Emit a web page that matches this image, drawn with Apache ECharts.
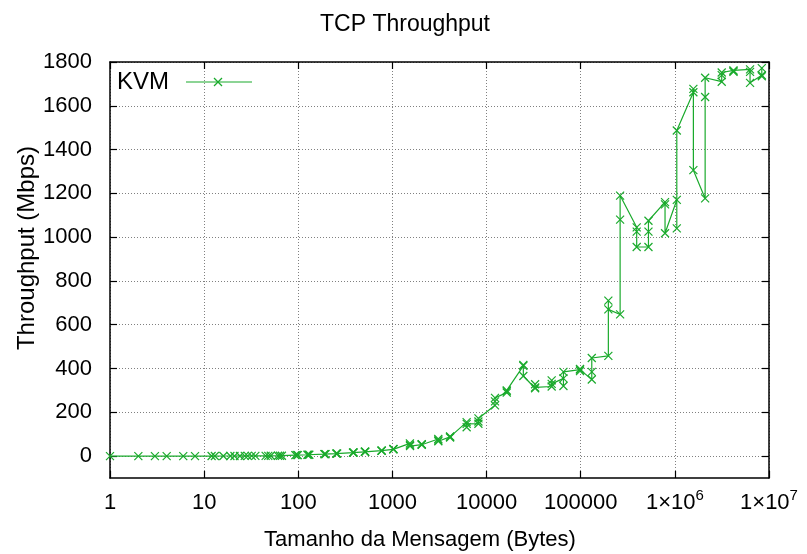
<!DOCTYPE html>
<html>
<head>
<meta charset="utf-8">
<title>TCP Throughput</title>
<script src="https://cdn.jsdelivr.net/npm/echarts@6/dist/echarts.min.js"></script>
<style>
  html, body { margin: 0; padding: 0; background: #ffffff; }
  #chart { width: 807px; height: 554px; }
</style>
</head>
<body>
<div id="chart"></div>
<script>
// Message sizes (bytes) swept by the benchmark, with the -3/+3 perturbations
const messageSizes = [
  1, 2, 3, 4, 6, 8, 12, 13, 16, 19, 21, 24, 27, 29, 32, 35, 45, 48, 51, 61, 64, 67,
  93, 96, 99, 125, 128, 131, 189, 192, 195, 253, 256, 259, 381, 384, 387, 509, 512, 515,
  765, 768, 771, 1021, 1024, 1027, 1533, 1536, 1539, 2045, 2048, 2051, 3069, 3072, 3075,
  4093, 4096, 4099, 6141, 6144, 6147, 8189, 8192, 8195, 12285, 12288, 12291,
  16381, 16384, 16387, 24573, 24576, 24579, 32765, 32768, 32771, 49149, 49152, 49155,
  65533, 65536, 65539, 98301, 98304, 98307, 131069, 131072, 131075,
  196605, 196608, 196611, 262141, 262144, 262147, 393213, 393216, 393219,
  524285, 524288, 524291, 786429, 786432, 786435, 1048573, 1048576, 1048579,
  1572861, 1572864, 1572867, 2097149, 2097152, 2097155, 3145725, 3145728, 3145731,
  4194301, 4194304, 4194307, 6291453, 6291456, 6291459, 8388605, 8388608, 8388611
];

// Measured throughput (Mbps) for the KVM guest
const throughputKVM = [
  0.03, 0.06, 0.08, 0.11, 0.17, 0.22, 0.34, 0.36, 0.45, 0.52, 0.58, 0.66, 0.74, 0.79, 0.88, 0.95,
  1.2, 1.3, 1.4, 1.6, 1.7, 1.8,
  4.5, 4.9, 4.8, 6.1, 6.4, 6.3, 8.8, 9.2, 9.0, 11.3, 11.8, 11.6, 16.1, 16.6, 16.4,
  19.7, 20.2, 20.0, 24.6, 24.9, 25.3, 31.0, 32.4, 31.6,
  58, 52, 46, 52, 55, 53, 78, 68, 72,
  88, 85, 90, 155, 132, 147, 148, 158, 172, 232, 250, 266,
  290, 296, 300, 412, 416, 366, 310, 328, 314, 318, 346, 330,
  355, 320, 385, 395, 398, 388, 350, 385, 448,
  458, 710, 670, 647, 1080, 1190, 1045, 1025, 955,
  955, 1025, 1075, 1160, 1150, 1018, 1170, 1040, 1487,
  1662, 1677, 1306, 1177, 1640, 1728, 1710, 1740, 1752,
  1762, 1758, 1755, 1766, 1755, 1705, 1740, 1735, 1772
];

const seriesName = 'KVM';
const xTickValues = [1, 10, 100, 1000, 10000, 100000, 1000000, 10000000];
const yTickValues = [0, 200, 400, 600, 800, 1000, 1200, 1400, 1600, 1800];

const chartTitle = 'TCP Throughput';
const xAxisTitle = 'Tamanho da Mensagem (Bytes)';
const yAxisTitle = 'Throughput (Mbps)';

const FONT = '"Liberation Sans", Arial, Helvetica, sans-serif';
const GREEN = '#1aaa2c';
const PLOT = { left: 110, top: 62, width: 659, height: 416 };
const X_MARK = 'path://M0,0L10,10M10,0L0,10';

const points = messageSizes.map((s, i) => [s, throughputKVM[i]]);

// Decade labels: plain numbers up to 100000, then 1×10^n
function xLabel(v) {
  const e = Math.round(Math.log10(v));
  if (e >= 6) return '{b|1×10}{s|' + e + '}';
  return '{b|' + String(Math.round(v)) + '}';
}

const xLabelRich = {
  b: { fontSize: 22, lineHeight: 30, fontFamily: FONT, color: '#000' },
  s: { fontSize: 15, lineHeight: 14, verticalAlign: 'top', fontFamily: FONT, color: '#000' }
};

const gridLine = { show: true, lineStyle: { color: '#808080', width: 1, type: [1, 2] } };
const frameLine = { show: true, onZero: false, lineStyle: { color: '#000', width: 1.5 } };
const innerTick = { show: true, inside: true, length: 7, lineStyle: { color: '#000', width: 1.2 } };

const option = {
  animation: false,
  backgroundColor: '#ffffff',
  grid: {
    left: PLOT.left, top: PLOT.top, width: PLOT.width, height: PLOT.height,
    containLabel: false
  },
  xAxis: [
    {
      type: 'log', logBase: 10, min: 1, max: 10000000,
      position: 'bottom',
      axisLine: frameLine,
      axisTick: innerTick,
      minorTick: { show: false },
      splitLine: gridLine,
      axisLabel: {
        margin: 10, formatter: xLabel, rich: xLabelRich,
        showMinLabel: true, showMaxLabel: true
      }
    },
    {
      type: 'log', logBase: 10, min: 1, max: 10000000,
      position: 'top',
      axisLine: frameLine,
      axisTick: innerTick,
      splitLine: { show: false },
      axisLabel: { show: false }
    }
  ],
  yAxis: [
    {
      type: 'value', min: -100, max: 1800,
      position: 'left',
      axisLine: frameLine,
      axisTick: Object.assign({ customValues: yTickValues }, innerTick),
      splitLine: gridLine,
      axisLabel: {
        customValues: yTickValues,
        formatter: (v) => String(v),
        margin: 18, fontSize: 22, fontFamily: FONT, color: '#000'
      }
    },
    {
      type: 'value', min: -100, max: 1800,
      position: 'right',
      axisLine: frameLine,
      axisTick: Object.assign({ customValues: yTickValues }, innerTick),
      splitLine: { show: false },
      axisLabel: { show: false, customValues: yTickValues }
    }
  ],
  series: [
    {
      name: seriesName,
      type: 'line',
      xAxisIndex: 0,
      yAxisIndex: 0,
      data: points,
      showSymbol: true,
      showAllSymbol: true,
      symbol: X_MARK,
      symbolSize: 8,
      itemStyle: { color: 'rgba(0,0,0,0)', borderColor: GREEN, borderWidth: 1.2 },
      lineStyle: { color: GREEN, width: 1.2 },
      emphasis: { disabled: true },
      z: 3
    }
  ],
  graphic: [
    {
      type: 'text', x: 405, y: 25,
      style: { text: chartTitle, font: '23px ' + FONT, fill: '#000', align: 'center', verticalAlign: 'middle' }
    },
    {
      type: 'text', x: 420, y: 540,
      style: { text: xAxisTitle, font: '22px ' + FONT, fill: '#000', align: 'center', verticalAlign: 'middle' }
    },
    {
      type: 'text', x: 27, y: 248, rotation: Math.PI / 2,
      style: { text: yAxisTitle, font: '24px ' + FONT, fill: '#000', align: 'center', verticalAlign: 'middle' }
    },
    // key: label followed by the line sample with its marker
    {
      type: 'text', x: 117, y: 82,
      style: { text: seriesName, font: '24px ' + FONT, fill: '#000', align: 'left', verticalAlign: 'middle' }
    },
    {
      type: 'line', shape: { x1: 186, y1: 82, x2: 252, y2: 82 },
      style: { stroke: GREEN, lineWidth: 1.2 }
    },
    {
      type: 'line', shape: { x1: 214, y1: 78, x2: 222, y2: 86 },
      style: { stroke: GREEN, lineWidth: 1.2 }
    },
    {
      type: 'line', shape: { x1: 222, y1: 78, x2: 214, y2: 86 },
      style: { stroke: GREEN, lineWidth: 1.2 }
    }
  ]
};

const chart = echarts.init(document.getElementById('chart'), null, { renderer: 'canvas' });
chart.setOption(option);
</script>
</body>
</html>
